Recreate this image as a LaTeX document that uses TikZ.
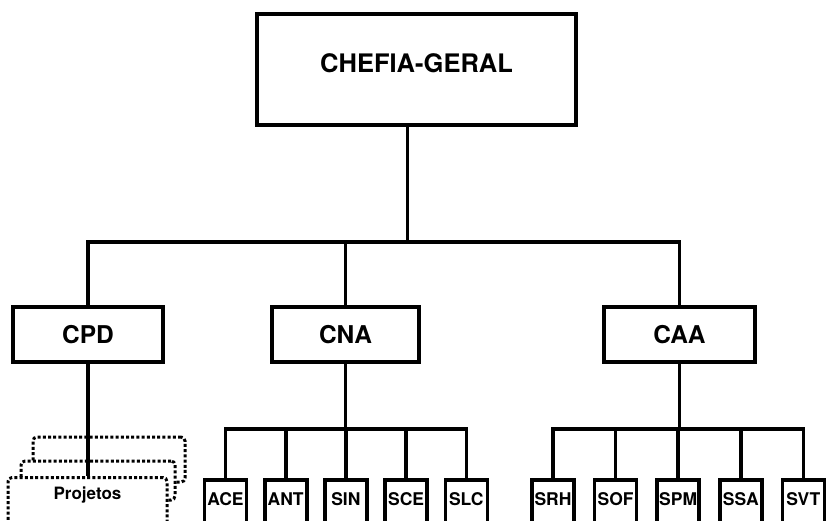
\documentclass[tikz,border=0pt]{standalone}
\usepackage{fontspec}
\setmainfont{TeX Gyre Heros}
\usetikzlibrary{positioning}

\begin{document}
\begin{tikzpicture}[x=1pt, y=-1pt,
  unit/.style={draw, line width=3.6pt, fill=white, inner sep=0pt, font=\bfseries},
  sector/.style={unit, minimum width=42pt, text height=26pt, text depth=36pt, font=\fontsize{17.5}{18}\bfseries},
  projbox/.style={draw, line width=3pt, dash pattern=on 3pt off 2.2pt, rounded corners=4pt, fill=white, inner sep=0pt},
  link/.style={line width=3.6pt}]
\useasboundingbox (0,0) rectangle (829,521);
\clip (0,0) rectangle (829,521);

% top level
\node[unit, minimum width=319pt, text height=59pt, text depth=52pt, font=\fontsize{25.5}{26}\bfseries, anchor=north] (chefia) at (416.5,12) {CHEFIA-GERAL};

% coordinations
\node[unit, minimum width=150pt, minimum height=55pt, font=\fontsize{24.5}{25}\bfseries] (cpd) at (88,334.5) {CPD};
\node[unit, minimum width=147pt, minimum height=55pt, font=\fontsize{24.5}{25}\bfseries] (cna) at (345.5,334.5) {CNA};
\node[unit, minimum width=151pt, minimum height=55pt, font=\fontsize{24.5}{25}\bfseries] (caa) at (679.5,334.5) {CAA};

\coordinate (busA) at (0,242);
\coordinate (busB) at (0,429);

% sectors under CNA
\node[sector, anchor=north] (ace) at (225.5,478) {ACE};
\node[sector, right=14.6pt of ace] (ant) {ANT};
\node[sector, right=14.6pt of ant] (sin) {SIN};
\node[sector, right=14.6pt of sin] (sce) {SCE};
\node[sector, right=14.6pt of sce] (slc) {SLC};

% sectors under CAA
\node[sector, anchor=north] (srh) at (553,478) {SRH};
\node[sector, right=17pt of srh] (sof) {SOF};
\node[sector, right=17pt of sof] (spm) {SPM};
\node[sector, right=17pt of spm] (ssa) {SSA};
\node[sector, right=17pt of ssa] (svt) {SVT};

% projects under CPD
\node[projbox, minimum width=152pt, minimum height=45pt] (projc) at (109,459.5) {};
\node[projbox, minimum width=154pt, minimum height=39pt] (projb) at (98,480.5) {};
\node[projbox, minimum width=159pt, text height=22pt, text depth=44pt, font=\fontsize{17}{17}\bfseries, anchor=north] (proj) at (87.5,476) {Projetos};

% connectors
\draw[link] ([xshift=-9pt]chefia.south) -- ([xshift=-9pt]chefia.south |- busA);
\draw[link] (cpd.north) -- (cpd.north |- busA) -- (caa.north |- busA) -- (caa.north);
\draw[link] (cna.north) -- (cna.north |- busA);
\draw[link] (cpd.south) -- (cpd.south |- proj.north);

\draw[link] (cna.south) -- (cna.south |- busB);
\draw[link] (ace.north) -- (ace.north |- busB) -- (slc.north |- busB) -- (slc.north);
\foreach \s in {ant,sin,sce}
  \draw[link] (\s.north) -- (\s.north |- busB);

\draw[link] (caa.south) -- (caa.south |- busB);
\draw[link] (srh.north) -- (srh.north |- busB) -- (svt.north |- busB) -- (svt.north);
\foreach \s in {sof,spm,ssa}
  \draw[link] (\s.north) -- (\s.north |- busB);
\end{tikzpicture}
\end{document}
